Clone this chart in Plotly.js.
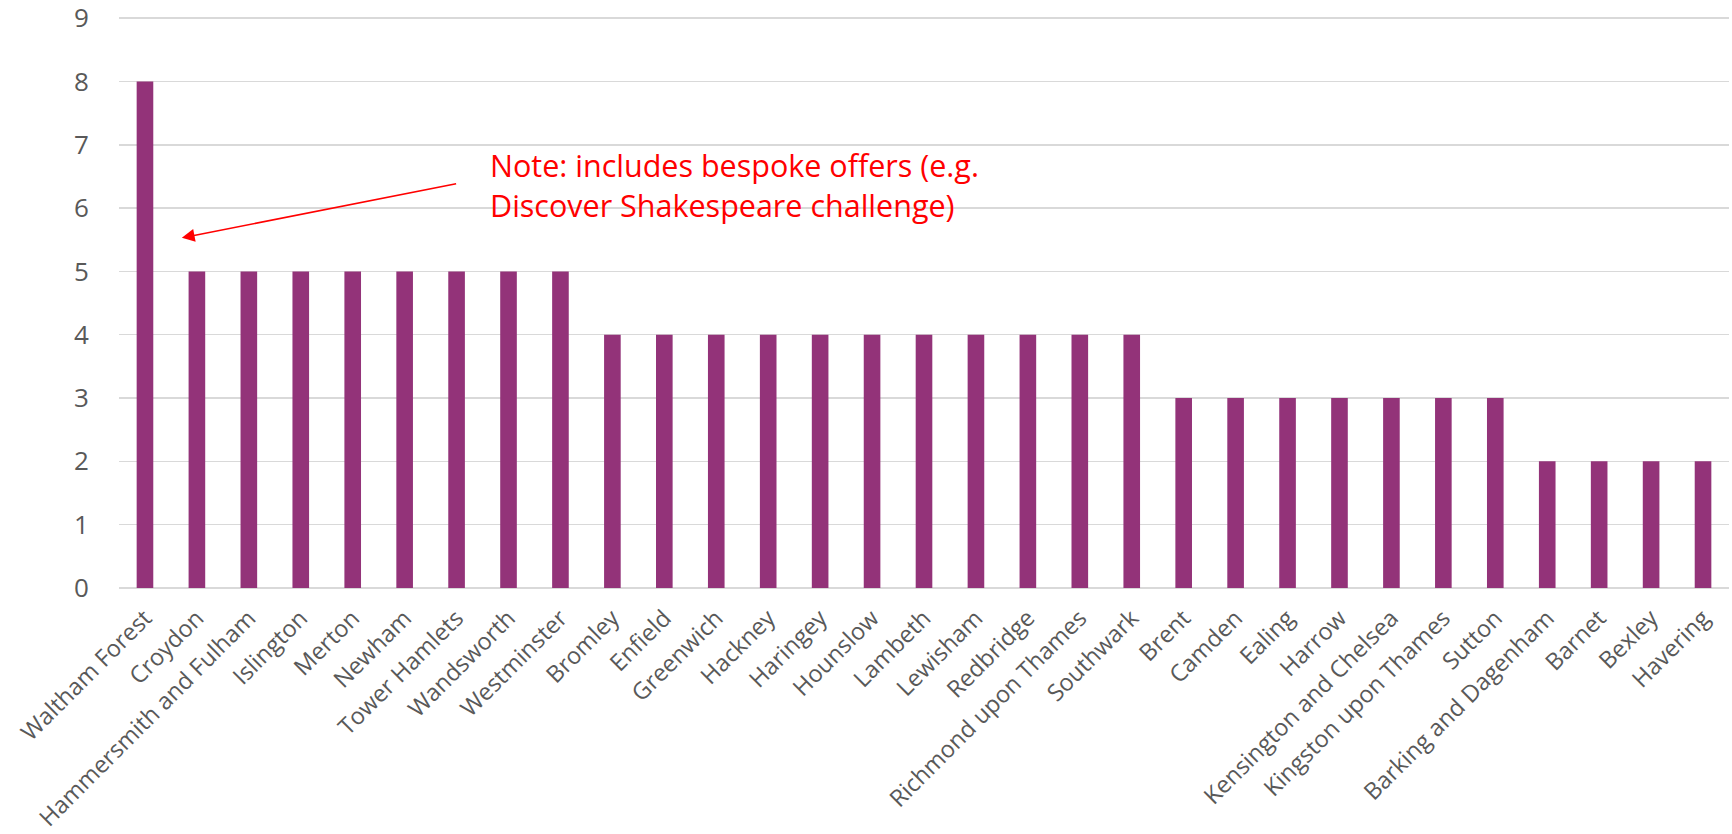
<!DOCTYPE html>
<html>
<head>
<meta charset="utf-8">
<script src="https://cdn.plot.ly/plotly-3.0.1.min.js"></script>
<style>
html,body{margin:0;padding:0;background:#fff;}
#chart{width:1732px;height:834px;}
</style>
</head>
<body>
<div id="chart"></div>
<script>
const boroughs = [
  "Waltham Forest","Croydon","Hammersmith and Fulham","Islington","Merton","Newham",
  "Tower Hamlets","Wandsworth","Westminster","Bromley","Enfield","Greenwich","Hackney",
  "Haringey","Hounslow","Lambeth","Lewisham","Redbridge","Richmond upon Thames","Southwark",
  "Brent","Camden","Ealing","Harrow","Kensington and Chelsea","Kingston upon Thames","Sutton",
  "Barking and Dagenham","Barnet","Bexley","Havering"
];
const counts = [8,5,5,5,5,5,5,5,5,4,4,4,4,4,4,4,4,4,4,4,3,3,3,3,3,3,3,2,2,2,2];
const yTicks = [0,1,2,3,4,5,6,7,8,9];
const noteText = "Note: includes bespoke offers (e.g.<br>Discover Shakespeare challenge)";

const FONT = "Open Sans, Lato, sans-serif";
const trace = {
  type: "bar",
  x: boroughs,
  y: counts,
  marker: {color: "#933379"},
  hoverinfo: "x+y"
};
const layout = {
  width: 1732, height: 834,
  margin: {l: 119, r: 3, t: 15, b: 246},
  paper_bgcolor: "#fff", plot_bgcolor: "#fff",
  bargap: 0.68,
  showlegend: false,
  font: {family: FONT, color: "#595959"},
  xaxis: {
    type: "category",
    tickangle: -45,
    tickfont: {family: FONT, size: 23.5, color: "#595959"},
    ticks: "outside", ticklen: 6, tickcolor: "rgba(0,0,0,0)",
    ticklabeloverflow: "allow",
    showgrid: false, zeroline: false, showline: false,
    automargin: false
  },
  yaxis: {
    range: [0, 9.05],
    tickvals: yTicks,
    tickfont: {family: FONT, size: 26, color: "#595959"},
    ticks: "outside", ticklen: 24, tickcolor: "rgba(0,0,0,0)",
    ticklabeloverflow: "allow",
    showgrid: true, gridcolor: "#d9d9d9", gridwidth: 1.5,
    zeroline: true, zerolinecolor: "#d9d9d9", zerolinewidth: 1.5,
    showline: false, automargin: false
  },
  annotations: [
    {
      xref: "x", yref: "y", x: 6.6, y: 6.37,
      text: noteText, showarrow: false,
      xanchor: "left", yanchor: "middle", align: "left",
      font: {family: FONT, size: 30.5, color: "#ff0000"}
    },
    {
      xref: "x", yref: "y", x: 0.71, y: 5.53,
      axref: "x", ayref: "y", ax: 6.02, ay: 6.39,
      text: "", showarrow: true,
      arrowhead: 2, arrowsize: 1.6, arrowwidth: 1.6, arrowcolor: "#ff0000",
      standoff: 0, startstandoff: 0
    }
  ]
};
Plotly.newPlot("chart", [trace], layout, {displayModeBar: false, staticPlot: true});
</script>
</body>
</html>
